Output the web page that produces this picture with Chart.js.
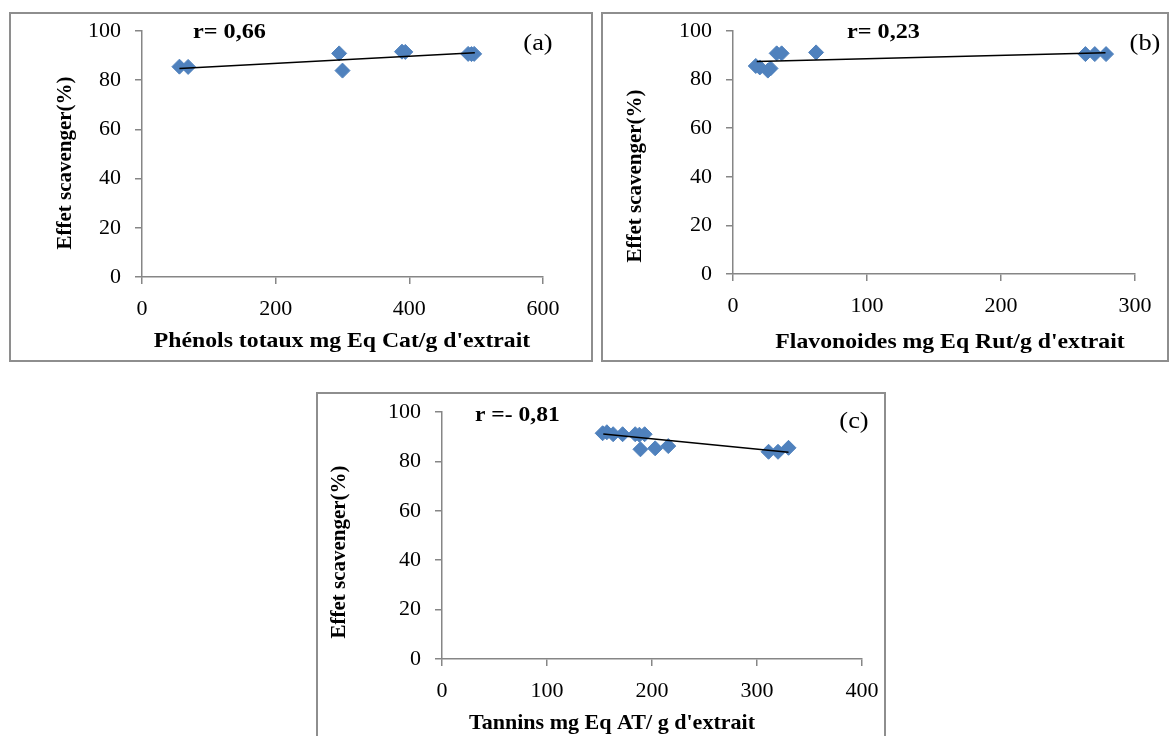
<!DOCTYPE html>
<html>
<head>
<meta charset="utf-8">
<script src="https://cdn.jsdelivr.net/npm/chart.js@4"></script>
<style>
  body { margin: 0; background: #fff; width: 1171px; height: 736px; overflow: hidden; position: relative; }
  .frame { position: absolute; border: 2px solid #8e8e8e; box-sizing: border-box; }
  canvas { position: absolute; }
</style>
</head>
<body>
<div class="frame" style="left:9px;top:12px;width:584px;height:350px"></div>
<div class="frame" style="left:601px;top:12px;width:568px;height:350px"></div>
<div class="frame" style="left:316px;top:392px;width:570px;height:360px"></div>
<canvas id="chartA" style="left:10px;top:13px" width="582" height="348"></canvas>
<canvas id="chartB" style="left:602px;top:13px" width="566" height="348"></canvas>
<canvas id="chartC" style="left:317px;top:393px" width="568" height="343"></canvas>
<script>
// (a) phenols totaux vs effet scavenger
const phenolsX = [56, 69, 295, 300, 389, 394, 488, 493, 497];
const phenolsY = [85.5, 85.4, 90.9, 83.9, 91.6, 91.5, 90.7, 90.6, 90.7];
const phenolsTrendX = [56, 498];
const phenolsTrendY = [84.8, 91.2];

// (b) flavonoides
const flavX = [17, 20, 26, 28, 32.6, 36.3, 62, 263, 270, 278.4];
const flavY = [85.6, 85, 83.7, 84.6, 90.8, 90.8, 91.2, 90.5, 90.5, 90.5];
const flavTrendX = [17.7, 278];
const flavTrendY = [87.4, 91.1];

// (c) tannins
const tanX = [153, 157, 163, 172, 184, 188, 193, 189, 203, 215.5, 311, 320, 330];
const tanY = [91.4, 91.8, 91, 91, 91, 90.8, 91, 84.9, 85.3, 86.2, 83.9, 83.9, 85.5];
const tanTrendX = [153.6, 330];
const tanTrendY = [91.1, 83.7];

const yTicks = [0, 20, 40, 60, 80, 100];

const serif = 'Liberation Serif';
const axisGrey = '#868686';
const blue = '#4F81BD';

// draws free text (r values, panel letters, axis titles)
const notes = {
  id: 'notes',
  afterDraw(chart, args, opts) {
    const ctx = chart.ctx;
    (opts.items || []).forEach(it => {
      ctx.save();
      ctx.font = it.font;
      ctx.fillStyle = '#000';
      ctx.textAlign = it.align || 'center';
      ctx.textBaseline = 'middle';
      ctx.translate(it.x, it.y);
      if (it.rot) ctx.rotate(it.rot);
      else ctx.scale(it.sx || 1.1, 1);
      ctx.fillText(it.text, 0, 0);
      ctx.restore();
    });
  }
};

const pairs = (xs, ys) => xs.map((x, i) => ({x: x, y: ys[i]}));

function makeChart(id, xs, ys, tx, ty, xMax, xStep, area, items) {
  const cv = document.getElementById(id);
  const w = cv.width, h = cv.height;
  return new Chart(cv, {
    type: 'scatter',
    data: {
      datasets: [
        {
          data: pairs(tx, ty),
          showLine: true,
          borderColor: '#000',
          borderWidth: 1.5,
          pointRadius: 0,
          order: 0
        },
        {
          data: pairs(xs, ys),
          pointStyle: 'rectRot',
          pointRadius: 7.5,
          backgroundColor: blue,
          borderColor: blue,
          borderWidth: 1,
          order: 1
        }
      ]
    },
    options: {
      responsive: false,
      animation: false,
      layout: { padding: { left: 0, top: area.top, right: w - area.right, bottom: 0 } },
      plugins: { legend: { display: false }, tooltip: { enabled: false }, notes: { items: items } },
      scales: {
        x: {
          type: 'linear', min: 0, max: xMax,
          ticks: { stepSize: xStep, color: '#000', padding: 12, font: { family: serif, size: 22 } },
          grid: { drawOnChartArea: false, tickLength: 7, color: axisGrey, lineWidth: 1.5 },
          border: { color: axisGrey, width: 1.5 },
          afterFit: s => { s.height = h - area.bottom; s.paddingLeft = 0; s.paddingRight = 0; }
        },
        y: {
          type: 'linear', min: 0, max: 100,
          afterBuildTicks: s => { s.ticks = yTicks.map(v => ({value: v})); },
          ticks: { color: '#000', padding: 14, font: { family: serif, size: 22 } },
          grid: { drawOnChartArea: false, tickLength: 7, color: axisGrey, lineWidth: 1.5 },
          border: { color: axisGrey, width: 1.5 },
          afterFit: s => { s.width = area.left; s.paddingTop = 0; s.paddingBottom = 0; }
        }
      }
    },
    plugins: [notes]
  });
}

const bold = 'bold 21px ' + serif;
const big = 'bold 22px ' + serif;
const letter = '24px ' + serif;

makeChart('chartA', phenolsX, phenolsY, phenolsTrendX, phenolsTrendY, 600, 200,
  { left: 132, top: 18, right: 533, bottom: 264 },
  [
    { text: 'r= 0,66', x: 183, y: 19, font: big, align: 'left' },
    { text: '(a)', x: 528, y: 31, font: letter },
    { text: 'Effet scavenger(%)', x: 56, y: 150, font: bold, rot: -Math.PI / 2 },
    { text: "Phénols totaux mg Eq Cat/g d'extrait", x: 332, y: 329, font: bold, sx: 1.13 }
  ]);

makeChart('chartB', flavX, flavY, flavTrendX, flavTrendY, 300, 100,
  { left: 131, top: 18, right: 533, bottom: 261 },
  [
    { text: 'r= 0,23', x: 245, y: 19, font: big, align: 'left' },
    { text: '(b)', x: 543, y: 31, font: letter },
    { text: 'Effet scavenger(%)', x: 34, y: 163, font: bold, rot: -Math.PI / 2 },
    { text: "Flavonoides mg Eq Rut/g d'extrait", x: 348, y: 330, font: bold, sx: 1.13 }
  ]);

makeChart('chartC', tanX, tanY, tanTrendX, tanTrendY, 400, 100,
  { left: 125, top: 19, right: 545, bottom: 266 },
  [
    { text: 'r =- 0,81', x: 158, y: 22, font: big, align: 'left', sx: 1.07 },
    { text: '(c)', x: 537, y: 29, font: letter },
    { text: 'Effet scavenger(%)', x: 23, y: 159, font: bold, rot: -Math.PI / 2 },
    { text: "Tannins mg Eq AT/ g d'extrait", x: 295, y: 331, font: bold, sx: 1.05 }
  ]);
</script>
</body>
</html>
